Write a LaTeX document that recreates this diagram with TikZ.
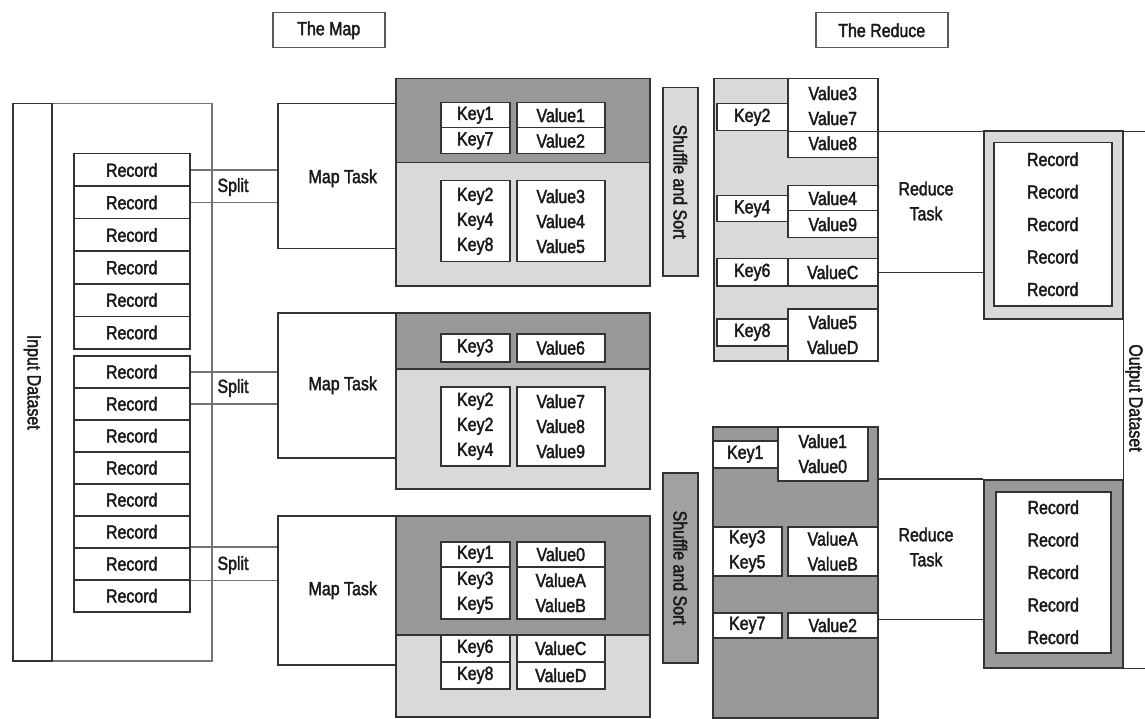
\documentclass[tikz,border=0pt]{standalone}
\usepackage{fontspec}
\setmainfont{Liberation Sans}[FakeStretch=0.84, FakeBold=2]
\usepackage{tikz}
\usetikzlibrary{positioning}

\begin{document}
\begin{tikzpicture}[
    x=1pt, y=-1pt,
    every node/.style={font=\fontsize{19}{25}\selectfont, text=black!90, align=center},
    box/.style={draw=black!80, line width=1.5pt, inner sep=0pt, anchor=north west},
    cell/.style={box, fill=white},
    rec/.style={cell, minimum width=116, minimum height=32.5},
    darkfill/.style={fill=black!40},
    lightfill/.style={fill=black!15},
    link/.style={draw=black!80, line width=1.5pt},
    splitlink/.style={draw=black!55, line width=1.5pt}
]
\useasboundingbox (0,0) rectangle (1145,719);

% Headers
\node[box, draw=black!65, minimum width=112, minimum height=35] (maphead) at (272,12) {The Map};
\node[box, draw=black!65, minimum width=132, minimum height=35] (redhead) at (815,12) {The Reduce};

% Input dataset
\node[box, draw=black!55, minimum width=199, minimum height=557] (inset) at (12,103) {};
\node[box, minimum width=39, minimum height=557] (inlabel) at (12,103) {};
\node[rotate=-90] (intext) at (inlabel.center) {Input Dataset};

% Records
\foreach \i in {1,...,6}
  \node[rec] (rec\i) at (73, {153+32.5*(\i-1)}) {Record};
\foreach \i in {7,...,14}
  \node[rec, minimum height=32] (rec\i) at (73, {355+32*(\i-7)}) {Record};

% Map tasks
\node[box, minimum width=118, minimum height=145, text depth=0pt] (map1) at (277,103) {\hspace*{12pt}Map Task};
\node[box, minimum width=118, minimum height=145] (map2) at (277,312) {\hspace*{12pt}Map Task};
\node[box, minimum width=118, minimum height=149] (map3) at (277,515) {\hspace*{12pt}Map Task};

% Splits
\draw[splitlink] (rec1.east) -- (rec1.east -| map1.west);
\draw[splitlink] (rec2.east) -- (rec2.east -| map1.west);
\node (split1) at (233,187) {Split};
\draw[splitlink] (rec7.east) -- (rec7.east -| map2.west);
\draw[splitlink] (rec8.east) -- (rec8.east -| map2.west);
\node (split2) at (233,388) {Split};
\draw[splitlink] (rec13.north east) -- (rec13.north east -| map3.west);
\draw[splitlink] (rec13.south east) -- (rec13.south east -| map3.west);
\node (split3) at (233,565) {Split};

% Map output 1
\node[box, lightfill, minimum width=254, minimum height=207] (buf1) at (395,78) {};
\node[box, darkfill, minimum width=254, minimum height=84] (buf1top) at (395,78) {};
\node[cell, minimum width=69, minimum height=25] (m1k1) at (440,102) {Key1};
\node[cell, minimum width=69, minimum height=26] (m1k7) at (440,127) {Key7};
\node[cell, minimum width=88, minimum height=25] (m1v1) at (516,102) {Value1};
\node[cell, minimum width=88, minimum height=26] (m1v2) at (516,127) {Value2};
\node[cell, minimum width=69, minimum height=81] (m1kb) at (440,180) {Key2\\Key4\\Key8};
\node[cell, minimum width=88, minimum height=81] (m1vb) at (516,180) {Value3\\Value4\\Value5};

% Map output 2
\node[box, lightfill, minimum width=254, minimum height=176] (buf2) at (395,312) {};
\node[box, darkfill, minimum width=254, minimum height=56] (buf2top) at (395,312) {};
\node[cell, minimum width=69, minimum height=28] (m2k3) at (440,333) {Key3};
\node[cell, minimum width=88, minimum height=28] (m2v6) at (516,333) {Value6};
\node[cell, minimum width=69, minimum height=79] (m2kb) at (440,386) {Key2\\Key2\\Key4};
\node[cell, minimum width=88, minimum height=79] (m2vb) at (516,386) {Value7\\Value8\\Value9};

% Map output 3
\node[box, lightfill, minimum width=254, minimum height=201] (buf3) at (395,515) {};
\node[box, darkfill, minimum width=254, minimum height=119] (buf3top) at (395,515) {};
\node[cell, minimum width=69, minimum height=25] (m3k1) at (440,541) {Key1};
\node[cell, minimum width=88, minimum height=25] (m3v0) at (516,541) {Value0};
\node[cell, minimum width=69, minimum height=52] (m3kb) at (440,566) {Key3\\Key5};
\node[cell, minimum width=88, minimum height=52] (m3vb) at (516,566) {ValueA\\ValueB};
\node[cell, minimum width=69, minimum height=27] (m3k6) at (440,634) {Key6};
\node[cell, minimum width=88, minimum height=27] (m3vc) at (516,634) {ValueC};
\node[cell, minimum width=69, minimum height=27] (m3k8) at (440,661) {Key8};
\node[cell, minimum width=88, minimum height=27] (m3vd) at (516,661) {ValueD};

% Shuffle and sort
\node[box, lightfill, minimum width=35, minimum height=188] (shuf1) at (662,87) {};
\node[rotate=-90] (shuf1text) at (shuf1.center) {Shuffle and Sort};
\node[box, fill=black!37, minimum width=35, minimum height=190] (shuf2) at (662,472) {};
\node[rotate=-90] (shuf2text) at (shuf2.center) {Shuffle and Sort};

% Reduce input 1
\node[box, lightfill, minimum width=164, minimum height=282] (red1) at (713,78) {};
\node[cell, minimum width=71, minimum height=27] (r1k2) at (716,103) {Key2};
\node[cell, minimum width=90, minimum height=79] (r1v2) at (787,78) {Value3\\Value7\\Value8};
\node[cell, minimum width=71, minimum height=26] (r1k4) at (716,195) {Key4};
\node[cell, minimum width=90, minimum height=25] (r1v4) at (787,185) {Value4};
\node[cell, minimum width=90, minimum height=27] (r1v9) at (787,210) {Value9};
\node[cell, minimum width=71, minimum height=27] (r1k6) at (716,258) {Key6};
\node[cell, minimum width=90, minimum height=27] (r1vc) at (787,258) {ValueC};
\node[cell, minimum width=71, minimum height=27] (r1k8) at (716,318) {Key8};
\node[cell, minimum width=90, minimum height=52] (r1v8) at (787,308) {Value5\\ValueD};
\node (redtask1) at (926,201) {Reduce\\Task};

% Reduce input 2
\node[box, darkfill, minimum width=165, minimum height=291] (red2) at (712,426) {};
\node[cell, minimum width=65, minimum height=27] (r2k1) at (712,440) {Key1};
\node[cell, minimum width=90, minimum height=54] (r2v1) at (777,426) {Value1\\Value0};
\node[cell, minimum width=69, minimum height=49] (r2kb) at (712,526) {Key3\\Key5};
\node[cell, minimum width=90, minimum height=49] (r2vb) at (787,526) {ValueA\\ValueB};
\node[cell, minimum width=69, minimum height=25] (r2k7) at (712,612) {Key7};
\node[cell, minimum width=90, minimum height=25] (r2v2) at (787,612) {Value2};
\node (redtask2) at (926,547) {Reduce\\Task};

% Output records
\node[box, lightfill, minimum width=139, minimum height=188] (out1) at (983,130) {};
\node[cell, minimum width=118, minimum height=163, font=\fontsize{19}{32.5}\selectfont] (out1rec) at (993,142) {Record\\Record\\Record\\Record\\Record};
\node[box, darkfill, minimum width=139, minimum height=188] (out2) at (983,479) {};
\node[cell, minimum width=115, minimum height=161, font=\fontsize{19}{32.5}\selectfont] (out2rec) at (995,491) {Record\\Record\\Record\\Record\\Record};

% Output dataset
\coordinate (outtop) at (1145,130);
\coordinate (outbot) at (1145,667);
\draw[link] (r1k2.south east) -- (r1k2.south east -| outtop);
\draw[link] (out1.north east) -- (out2.south east) -- (out2.south east -| outbot);
\node[rotate=-90] (outtext) at (1134,398) {Output Dataset};

% Reduce links
\draw[link] (r1vc.east) -- (r1vc.east -| out1.west);
\draw[link] (red2.east |- out2.north) -- (out2.north west);
\draw[link] ([yshift=6]r2v2.east) -- ([yshift=6]r2v2.east -| out2.west);

\end{tikzpicture}
\end{document}
